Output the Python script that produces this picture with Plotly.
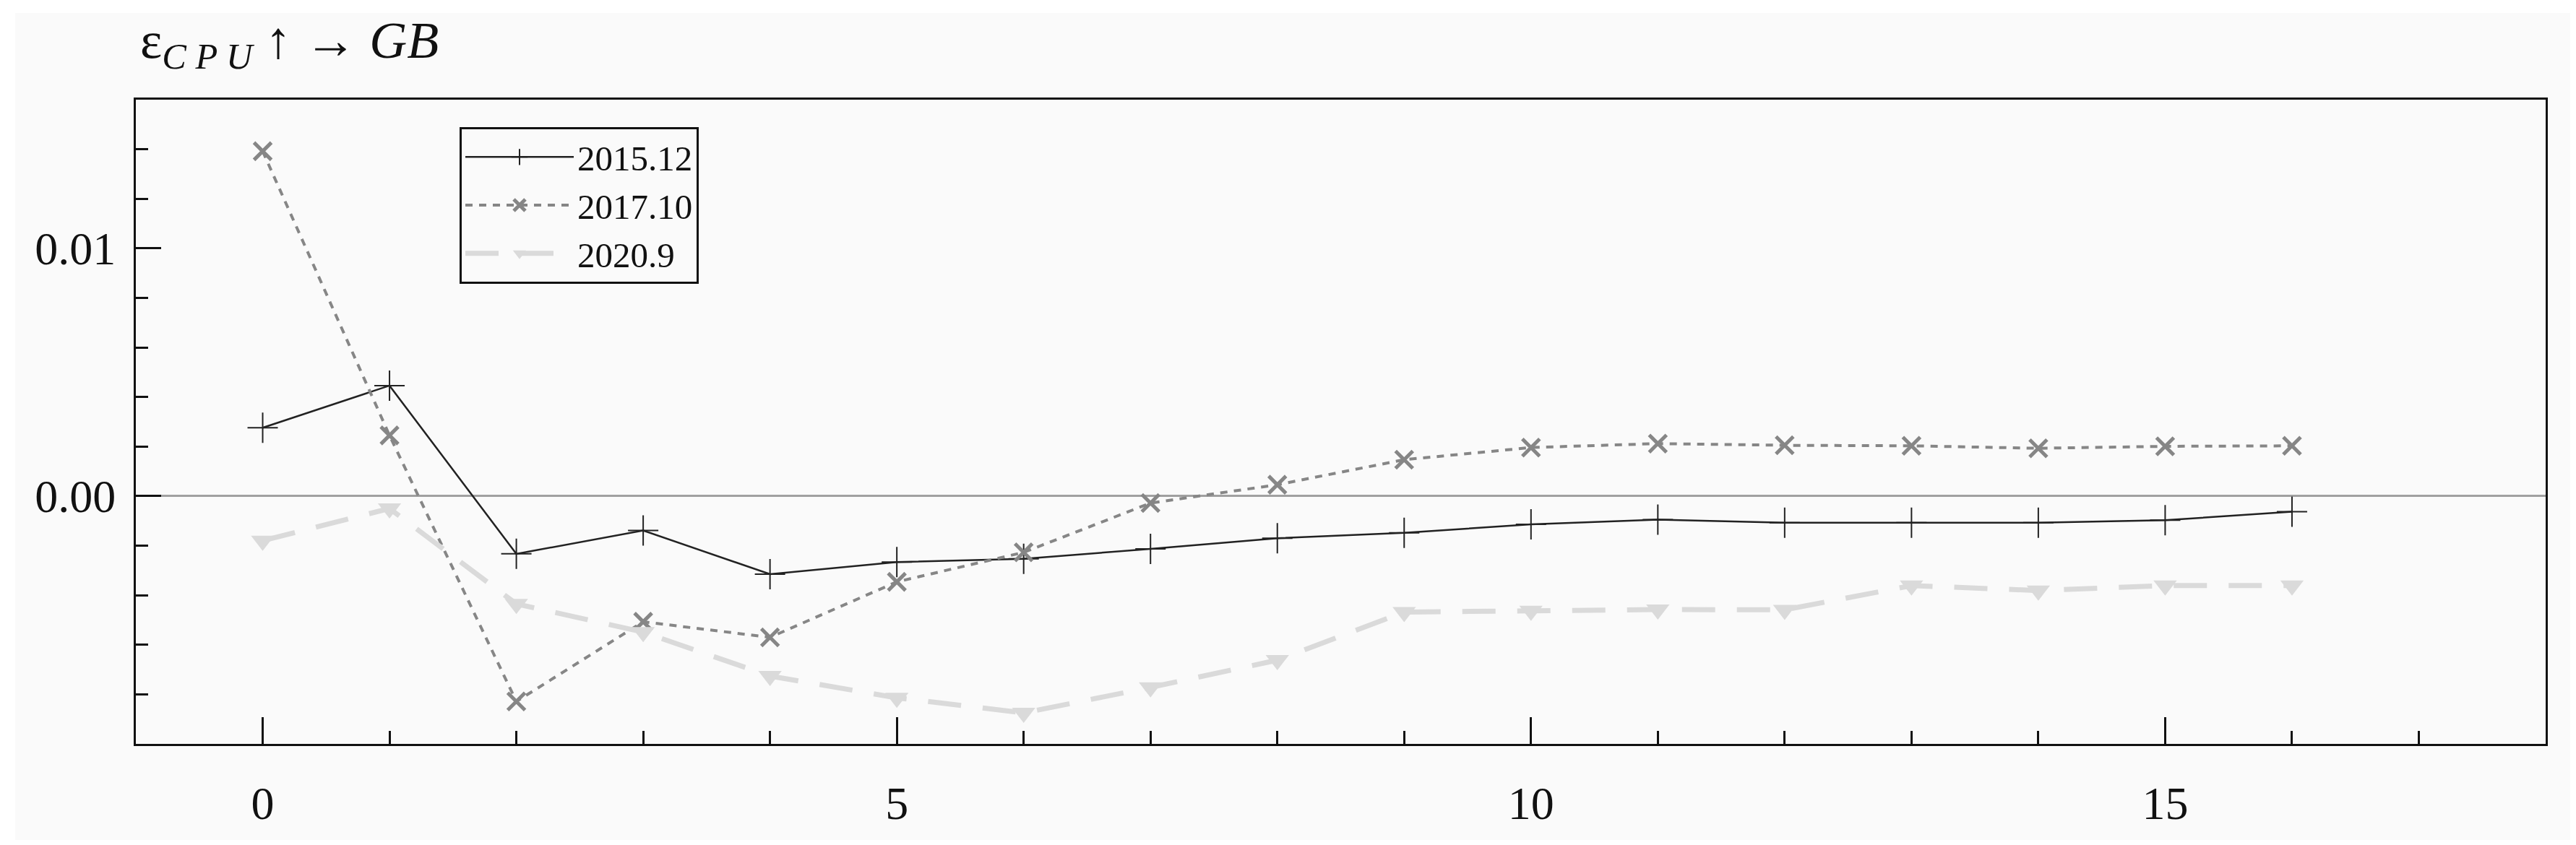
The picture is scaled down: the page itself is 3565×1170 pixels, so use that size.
import plotly.graph_objects as go

# ---- data ----
horizons = list(range(17))
series_names = ["2015.12", "2017.10", "2020.9"]
irf_2015_12 = [0.00276, 0.00446, -0.00233, -0.00139, -0.00315, -0.00266, -0.00253, -0.00213,
               -0.00170, -0.00148, -0.00114, -0.00095, -0.00107, -0.00107, -0.00107, -0.00097, -0.00063]
irf_2017_10 = [0.01392, 0.00245, -0.00829, -0.00507, -0.00570, -0.00346, -0.00227, -0.00028,
               0.00046, 0.00147, 0.00196, 0.00212, 0.00205, 0.00203, 0.00193, 0.00201, 0.00203]
irf_2020_9 = [-0.00180, -0.00050, -0.00435, -0.00549, -0.00726, -0.00814, -0.00875, -0.00772,
              -0.00662, -0.00468, -0.00463, -0.00458, -0.00459, -0.00361, -0.00381, -0.00361, -0.00361]
x_tick_vals = [0, 5, 10, 15]
x_tick_text = ["0", "5", "10", "15"]
y_tick_vals = [0.0, 0.01]
y_tick_text = ["0.00", "0.01"]

W, H = 3565, 1170
ML, MR, MT, MB = 180, 50, 130, 148
PW, PH = W - ML - MR, H - MT - MB
SERIF = "Liberation Serif, Times New Roman, serif"

fig = go.Figure()
fig.add_trace(go.Scatter(
    x=horizons, y=irf_2015_12, name=series_names[0], mode="lines+markers",
    line=dict(color="#222222", width=2.5),
    marker=dict(symbol="cross-thin", size=30, color="#222222", line=dict(color="#222222", width=2)),
))
fig.add_trace(go.Scatter(
    x=horizons, y=irf_2017_10, name=series_names[1], mode="lines+markers",
    line=dict(color="#868686", width=4, dash="10px,9px"),
    marker=dict(symbol="x-thin", size=24, color="#868686", line=dict(color="#868686", width=5)),
))
fig.add_trace(go.Scatter(
    x=horizons, y=irf_2020_9, name=series_names[2], mode="lines+markers",
    line=dict(color="#dadada", width=7, dash="46px,30px"),
    marker=dict(symbol="triangle-down", size=28, color="#dadada"),
))

# light grey page panel
fig.add_shape(type="rect", xref="paper", yref="paper",
              x0=(13 - ML) / PW, x1=(3555 - ML) / PW,
              y0=-(1155 - (H - MB)) / PH, y1=((H - MB) - 10) / PH,
              fillcolor="#fafafa", line=dict(width=0), layer="below")

fig.add_annotation(
    xref="paper", yref="paper", x=(184 - ML) / PW, y=((H - MB) - 100) / PH,
    xanchor="left", yanchor="bottom", showarrow=False,
    text="ε<sub><i>C P U</i></sub> ↑ → <i>GB</i>",
    font=dict(family=SERIF, size=72, color="#111111"),
)

fig.update_layout(
    width=W, height=H,
    margin=dict(l=ML, r=MR, t=MT, b=MB, pad=0),
    paper_bgcolor="white", plot_bgcolor="#fafafa",
    font=dict(family=SERIF, size=62, color="#111111"),
    showlegend=True,
    legend=dict(
        x=(628 - ML) / PW, y=((H - MB) - 168) / PH, xanchor="left", yanchor="top",
        bgcolor="#fafafa", bordercolor="#111111", borderwidth=3,
        font=dict(family=SERIF, size=49, color="#111111"),
        itemwidth=150, tracegroupgap=0,
    ),
    xaxis=dict(
        range=[-1, 18], showgrid=False, zeroline=False,
        showline=True, linecolor="#111111", linewidth=3, mirror=True,
        ticks="inside", ticklen=37, tickwidth=2.5, tickcolor="#111111",
        tickvals=x_tick_vals, ticktext=x_tick_text, ticklabelstandoff=24,
        tickfont=dict(family=SERIF, size=64, color="#111111"),
        minor=dict(dtick=1, tick0=0, ticks="inside", ticklen=18, tickwidth=2.5, tickcolor="#111111"),
    ),
    yaxis=dict(
        range=[-0.01, 0.016], showgrid=False,
        zeroline=True, zerolinecolor="#a0a0a0", zerolinewidth=3,
        showline=True, linecolor="#111111", linewidth=3, mirror=True,
        ticks="inside", ticklen=35, tickwidth=3, tickcolor="#111111",
        tickvals=y_tick_vals, ticktext=y_tick_text, ticklabelstandoff=12,
        tickfont=dict(family=SERIF, size=64, color="#111111"),
        minor=dict(dtick=0.002, tick0=0, ticks="inside", ticklen=17, tickwidth=3, tickcolor="#111111"),
    ),
)

fig.write_html("out.html")
